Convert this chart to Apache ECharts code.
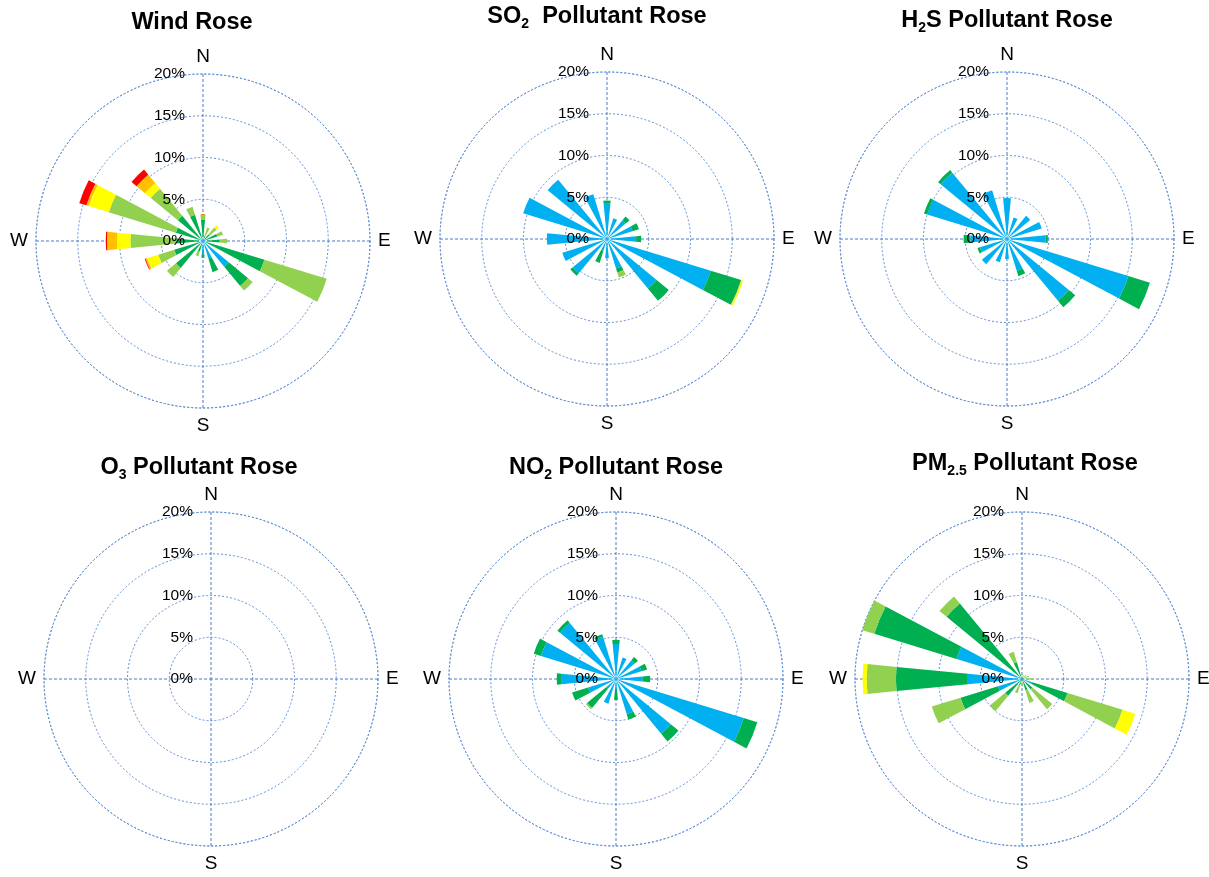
<!DOCTYPE html>
<html>
<head>
<meta charset="utf-8">
<script src="https://cdn.jsdelivr.net/npm/echarts@6/dist/echarts.min.js"></script>
<style>
  html, body { margin: 0; padding: 0; background: #fff; }
  #chart { width: 1209px; height: 877px; }
</style>
</head>
<body>
<div id="chart"></div>
<script>
// 16 compass sectors, clockwise from north
const directions = ['N', 'NNE', 'NE', 'ENE', 'E', 'ESE', 'SE', 'SSE',
  'S', 'SSW', 'SW', 'WSW', 'W', 'WNW', 'NW', 'NNW']
const compassLabels = { 0: 'N', 90: 'E', 180: 'S', 270: 'W' }
const radiusMax = 20
const radiusStep = 5

// class colours, innermost (lowest) class first
const classColors = ['#00B0F0', '#00B050', '#92D050', '#FFFF00', '#FFC000', '#FF0000']

// each row = one class, values in % of time per sector
const windRose = [
  [0.4, 0.3, 0.3, 0.3, 0.4, 0.4, 4.0, 2.2, 1.6, 0.3, 0.4, 0.4, 0.4, 0.4, 0.4, 0.4],
  [2.15, 0.4, 0.7, 1.5, 1.6, 7.3, 3.0, 1.7, 0.4, 1.0, 3.8, 3.2, 2.8, 3.0, 3.5, 2.9],
  [0.65, 1.0, 1.1, 0.7, 0.9, 7.8, 0.7, 0, 0, 0.6, 1.4, 2.0, 5.5, 8.4, 4.2, 1.0],
  [0, 0, 0.4, 0, 0, 0, 0, 0, 0, 0, 0, 1.4, 1.6, 2.5, 0.9, 0],
  [0, 0, 0, 0, 0, 0, 0, 0, 0, 0, 0, 0.2, 1.2, 0.3, 1.3, 0],
  [0, 0, 0, 0, 0, 0, 0, 0, 0, 0, 0, 0.1, 0.15, 0.9, 0.8, 0],
]
const so2Rose = [
  [4.3, 2.6, 2.9, 3.2, 3.5, 13.0, 7.7, 3.7, 2.3, 1.5, 5.3, 5.6, 7.2, 10.5, 9.2, 5.6],
  [0.3, 0, 0.6, 0.8, 0.6, 3.8, 1.9, 0.5, 0, 1.5, 0.4, 0, 0, 0, 0, 0],
  [0, 0, 0, 0, 0, 0.05, 0, 0.6, 0, 0, 0, 0, 0, 0, 0, 0],
  [0, 0, 0, 0, 0, 0.2, 0, 0, 0, 0, 0, 0, 0, 0, 0, 0],
]
const h2sRose = [
  [4.9, 2.7, 3.6, 4.35, 4.65, 15.2, 9.6, 4.0, 2.4, 2.9, 3.9, 3.4, 4.4, 10.0, 10.3, 6.1],
  [0, 0, 0, 0, 0.25, 2.7, 1.0, 0.65, 0, 0, 0, 0.3, 0.8, 0.4, 0.4, 0],
]
const o3Rose = []
const no2Rose = [
  [4.2, 2.7, 2.9, 3.2, 3.2, 16.0, 8.5, 4.4, 1.2, 3.1, 1.5, 3.5, 6.6, 9.4, 8.7, 5.3],
  [0.5, 0, 0.5, 0.7, 0.9, 1.7, 1.2, 0.7, 1.3, 0, 3.0, 2.0, 0.5, 0.9, 0.4, 0.3],
  [0, 0, 0, 0, 0, 0, 0, 0, 0, 0, 0.2, 0, 0, 0, 0, 0],
]
const pm25Rose = [
  [0, 0, 0, 0, 0, 1.3, 0, 0, 0, 0, 0, 3.0, 6.5, 8.2, 0.5, 0.2],
  [0.3, 0, 0.2, 0.3, 0.4, 4.4, 1.6, 1.4, 0.3, 0.8, 2.6, 4.7, 8.6, 10.3, 11.2, 1.9],
  [0.4, 0.5, 0.5, 0.6, 0.9, 6.9, 3.1, 1.6, 0.6, 1.0, 2.4, 3.6, 3.5, 1.5, 1.1, 1.3],
  [0, 0, 0, 0, 0, 1.6, 0, 0, 0, 0, 0, 0, 0.5, 0, 0, 0],
]

const roseTitles = [
  '{t|Wind Rose}',
  '{t|SO}{s|2}{t|  Pollutant Rose}',
  '{t|H}{s|2}{t|S Pollutant Rose}',
  '{t|O}{s|3}{t| Pollutant Rose}',
  '{t|NO}{s|2}{t| Pollutant Rose}',
  '{t|PM}{s|2.5}{t| Pollutant Rose}',
]
const roseData = [windRose, so2Rose, h2sRose, o3Rose, no2Rose, pm25Rose]

// layout (pixels)
const centers = [[203, 241], [607, 239], [1007, 239], [211, 679], [616, 679], [1022, 679]]
const titlePos = [[192, 23], [597, 17], [1007, 21], [199, 468], [616, 468], [1025, 464]]
const radius = 167
const font = '"Liberation Sans", Arial, sans-serif'
const gridBlue = '#5f8fd6'

const titleRich = {
  t: { fontSize: 23.5, fontWeight: 'bold', fontFamily: font, color: '#000', lineHeight: 28 },
  s: { fontSize: 14, fontWeight: 'bold', fontFamily: font, color: '#000', lineHeight: 12, verticalAlign: 'bottom' },
}

const polar = []
const angleAxis = []
const radiusAxis = []
const title = []
const series = []

roseData.forEach((rows, k) => {
  const [cx, cy] = centers[k]
  title.push({
    text: roseTitles[k],
    left: titlePos[k][0],
    top: titlePos[k][1],
    textAlign: 'center',
    textVerticalAlign: 'middle',
    padding: 0,
    textStyle: { rich: titleRich, fontSize: 23.5, fontWeight: 'bold', fontFamily: font },
  })

  // grid polar: rings, compass cross, N/E/S/W
  polar.push({ center: [cx, cy], radius: radius })
  angleAxis.push({
    polarIndex: 2 * k,
    type: 'value',
    min: 0,
    max: 360,
    interval: 90,
    startAngle: 90,
    clockwise: true,
    axisLine: { lineStyle: { color: gridBlue, width: 1, type: [2, 2] } },
    axisTick: { show: false },
    axisLabel: {
      margin: 8,
      fontSize: 19,
      fontFamily: font,
      color: '#000',
      formatter: (v) => compassLabels[v] || '',
    },
    splitLine: { show: true, lineStyle: { color: '#4a78c8', width: 1, type: [3, 2] } },
  })
  radiusAxis.push({
    polarIndex: 2 * k,
    min: 0,
    max: radiusMax,
    interval: radiusStep,
    axisLine: { show: false },
    axisTick: { show: false },
    axisLabel: { show: false },
    splitLine: { show: true, lineStyle: { color: gridBlue, width: 1, type: [2, 2] } },
  })

  // bar polar: sectors + % labels on top
  polar.push({ center: [cx, cy], radius: radius })
  angleAxis.push({
    polarIndex: 2 * k + 1,
    type: 'category',
    data: directions,
    boundaryGap: false,
    startAngle: 90,
    clockwise: true,
    axisLine: { show: false },
    axisTick: { show: false },
    axisLabel: { show: false },
    splitLine: { show: false },
  })
  radiusAxis.push({
    polarIndex: 2 * k + 1,
    min: 0,
    max: radiusMax,
    interval: radiusStep,
    z: 5,
    axisLine: { show: false },
    axisTick: { show: false },
    splitLine: { show: false },
    axisLabel: {
      formatter: '{value}%',
      fontSize: 15.5,
      fontFamily: font,
      color: '#000',
      margin: 18,
    },
  })

  rows.forEach((values, c) => {
    series.push({
      type: 'bar',
      coordinateSystem: 'polar',
      polarIndex: 2 * k + 1,
      stack: 'rose' + k,
      data: values,
      barWidth: 11,
      itemStyle: { color: classColors[c] },
      silent: true,
    })
  })
})

const chart = echarts.init(document.getElementById('chart'))
chart.setOption({
  backgroundColor: '#fff',
  animation: false,
  title,
  polar,
  angleAxis,
  radiusAxis,
  series,
})
</script>
</body>
</html>
